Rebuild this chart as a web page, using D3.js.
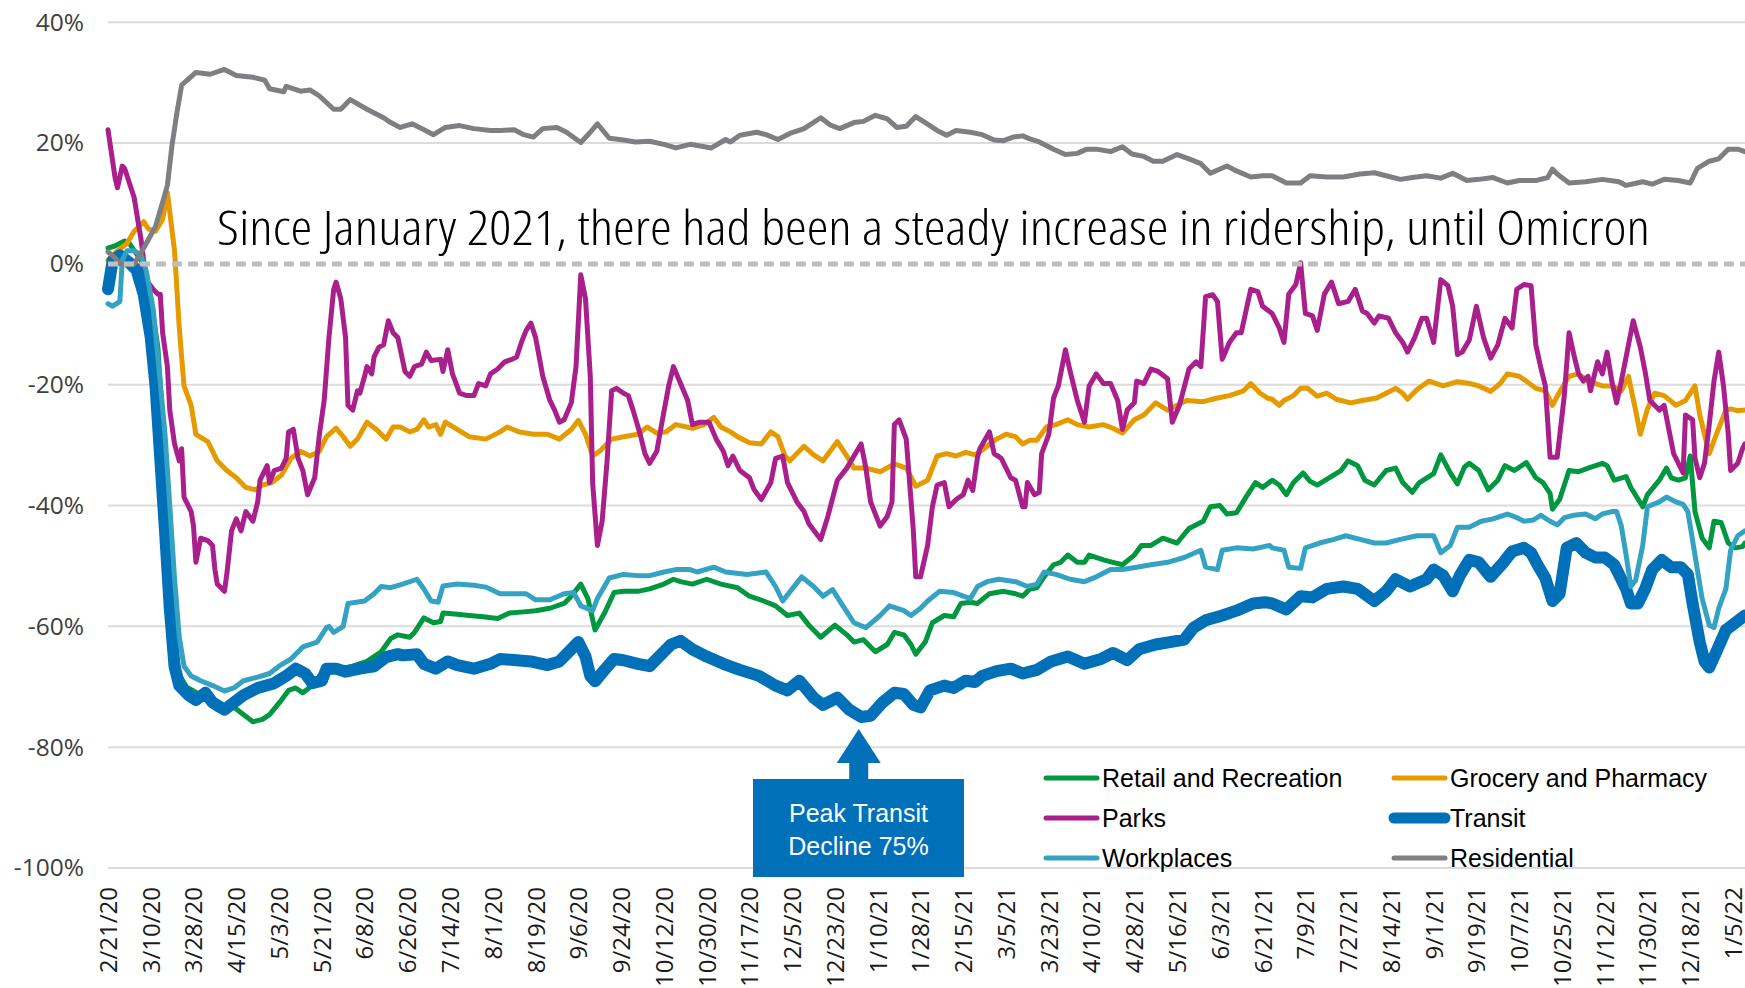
<!DOCTYPE html>
<html><head><meta charset="utf-8">
<script src="https://cdn.jsdelivr.net/npm/d3@7"></script>
<style>html,body{margin:0;padding:0;background:#fff;overflow:hidden}</style>
</head><body>
<svg id="chart" width="1745" height="988"></svg>
<script>
// ---------------- DATA ----------------
const startDate = "2020-02-21";   // day 0 of every series; each point is [days since start, % change]
const tickLabels = ["2/21/20","3/10/20","3/28/20","4/15/20","5/3/20","5/21/20","6/8/20","6/26/20","7/14/20","8/1/20","8/19/20","9/6/20","9/24/20","10/12/20","10/30/20","11/17/20","12/5/20","12/23/20","1/10/21","1/28/21","2/15/21","3/5/21","3/23/21","4/10/21","4/28/21","5/16/21","6/3/21","6/21/21","7/9/21","7/27/21","8/14/21","9/1/21","9/19/21","10/7/21","10/25/21","11/12/21","11/30/21","12/18/21","1/5/22"];
const yTicks = [40,20,0,-20,-40,-60,-80,-100];
const seriesNames = ["Retail and Recreation","Grocery and Pharmacy","Parks","Transit","Workplaces","Residential"];
const titleText = "Since January 2021, there had been a steady increase in ridership, until Omicron";
const noteLines = ["Peak Transit","Decline 75%"];

const retail = [[0,2.6],[3,3],[7,3.8],[9,3.4],[11,2.2],[14,0.6],[18,-5.8],[21,-13.8],[23,-26.6],[25,-44],[27,-60],[30,-68],[33,-70],[39,-71.4],[46,-73.8],[53,-73.4],[57,-74.6],[61,-75.8],[65,-75.4],[68,-74.6],[73,-72.2],[76,-70.6],[79,-70.2],[82,-71],[86,-69.8],[89,-68.2],[93,-67.4],[98,-67],[103,-66.6],[109,-65.8],[115,-64.2],[119,-62],[122,-61.4],[127,-61.8],[129,-61],[133,-58.6],[137,-59.4],[140,-59.2],[141,-57.8],[147,-58],[152,-58.2],[158,-58.4],[164,-58.7],[169,-57.8],[175,-57.6],[180,-57.4],[186,-57],[192,-56.2],[195,-55],[199,-53],[202,-55.4],[205,-60.6],[209,-57.8],[213,-54.4],[217,-54.2],[223,-54.2],[228,-53.8],[234,-53],[238,-52.2],[241,-52.6],[246,-53],[252,-52.2],[258,-53],[265,-53.6],[270,-55],[276,-55.8],[281,-56.6],[286,-58.2],[291,-57.8],[295,-59.8],[300,-61.8],[306,-59.8],[311,-61.4],[314,-62.6],[318,-62.2],[323,-64.2],[328,-63],[331,-61],[335,-61.4],[338,-63],[340,-64.6],[344,-62.6],[347,-59.4],[352,-58.2],[356,-58.4],[359,-56.2],[363,-56],[366,-56.2],[371,-54.6],[377,-54.2],[382,-54.6],[385,-55],[388,-53.8],[391,-53.6],[394,-51.8],[398,-49.8],[401,-49.4],[404,-48.2],[408,-49.4],[411,-49.4],[413,-48.2],[419,-49],[423,-49.4],[427,-49.8],[432,-48.2],[435,-46.6],[439,-46.6],[444,-45.4],[450,-46.2],[455,-43.8],[461,-42.6],[464,-40.2],[468,-40],[471,-41.4],[475,-41.2],[479,-38.6],[483,-36.2],[486,-37],[490,-35.8],[493,-36.6],[496,-38.2],[499,-36.2],[503,-34.6],[506,-36],[509,-36.6],[514,-35.4],[519,-34.2],[522,-32.6],[526,-33.4],[529,-35.8],[533,-36.6],[538,-34.2],[542,-33.8],[545,-36.2],[549,-37.8],[552,-36.2],[558,-34.7],[561,-31.6],[565,-34.6],[568,-36.4],[571,-33.6],[573,-33],[577,-34.2],[581,-37.4],[585,-35.8],[588,-33.4],[592,-34.2],[597,-32.9],[601,-35.4],[604,-36.2],[607,-38],[608,-40.6],[611,-39],[615,-34.2],[619,-34.4],[623,-33.8],[629,-33],[631,-33.4],[634,-35.8],[639,-35.2],[641,-37],[646,-40.2],[648,-38.2],[653,-35.8],[656,-33.8],[658,-35.4],[661,-35.8],[664,-35.4],[666,-31.8],[668,-41],[671,-45.4],[674,-47],[676,-42.6],[679,-42.8],[682,-46.2],[685,-47],[688,-46.8],[689,-46.2]];

const grocery = [[0,0.6],[4,2.2],[8,3.4],[11,5.4],[15,7],[17,5.8],[20,5.4],[23,7.4],[25,11.8],[28,2.2],[30,-10.6],[32,-20.2],[35,-23.4],[37,-28.2],[42,-29.4],[46,-32.6],[50,-34.2],[54,-35.4],[58,-37],[62,-37.4],[65,-36.6],[69,-36.2],[73,-35],[77,-32.2],[81,-31],[85,-31.8],[89,-31],[92,-28.6],[96,-27.2],[99,-28.6],[102,-30.2],[105,-29],[109,-26.2],[113,-27.4],[117,-29],[120,-27],[123,-27],[127,-27.8],[130,-27.4],[133,-25.8],[135,-27],[138,-26.6],[140,-28.2],[142,-26.2],[147,-27.4],[152,-28.6],[159,-29],[165,-27.8],[168,-27],[173,-27.8],[179,-28.2],[185,-28.2],[190,-29],[195,-27.4],[198,-25.9],[201,-28.2],[204,-31.8],[207,-31],[212,-29],[217,-28.6],[223,-28.2],[227,-27],[231,-28],[235,-27.8],[239,-26.6],[246,-27.2],[251,-26.6],[255,-25.4],[258,-27],[262,-27.8],[265,-28.6],[270,-29.6],[275,-29.8],[279,-27.8],[282,-28.6],[285,-31.8],[287,-32.6],[293,-30.2],[297,-31.6],[301,-32.6],[307,-29.4],[311,-31.8],[314,-33.8],[319,-33.8],[325,-34.4],[331,-33.1],[336,-33.8],[340,-36.8],[345,-35.8],[349,-31.8],[353,-31.4],[357,-31.8],[361,-31.2],[365,-31.6],[368,-30.8],[374,-29],[378,-28.2],[382,-28.6],[385,-29.8],[388,-29.2],[391,-29.2],[395,-27],[399,-26.6],[404,-25.8],[408,-26.6],[413,-27],[419,-26.6],[423,-27.2],[427,-28],[432,-25.8],[436,-25],[441,-23],[446,-24.2],[450,-23.4],[454,-22.6],[461,-22.8],[467,-22.2],[472,-21.8],[478,-21],[481,-19.8],[485,-21.4],[488,-22.2],[490,-22.4],[493,-23.4],[495,-22.6],[499,-21.8],[502,-20.6],[505,-20.6],[509,-21.9],[513,-21.4],[517,-22.4],[523,-23],[528,-22.6],[534,-22.2],[538,-21.4],[542,-20.6],[545,-21.4],[547,-22.4],[551,-20.8],[556,-19.4],[562,-20.2],[568,-19.5],[573,-19.8],[577,-20.2],[582,-21.1],[586,-19.8],[589,-18.2],[594,-18.6],[597,-19.4],[601,-20.6],[605,-21],[608,-23.4],[611,-21.2],[615,-18.6],[619,-18.2],[623,-19.4],[629,-20.2],[633,-20.2],[637,-21],[640,-18.6],[643,-24.2],[645,-28.2],[648,-24],[651,-21.4],[655,-21.8],[660,-23.4],[664,-22.6],[668,-20.2],[670,-25],[674,-31.4],[677,-28.2],[681,-24.2],[683,-24],[686,-24.3],[689,-24.2]];

const parks = [[0,22.2],[3,14.2],[4,12.6],[6,16.2],[7,15.8],[9,13.4],[11,11],[12,8.6],[14,3.8],[16,-2.6],[19,-4.2],[21,-5],[22,-5],[23,-11.4],[25,-17],[26,-24.2],[28,-29.8],[30,-32.6],[31,-30.6],[32,-38.6],[35,-41],[36,-43.4],[37,-49.4],[39,-45.4],[42,-45.8],[44,-46.6],[45,-50.6],[46,-53],[49,-54.2],[50,-51.4],[52,-44.2],[54,-42.2],[56,-44.2],[58,-41],[61,-42.6],[63,-39.4],[64,-35.8],[67,-33.4],[68,-36.2],[70,-34.2],[73,-33.8],[75,-32.2],[76,-27.8],[78,-27.4],[80,-32.2],[82,-34.2],[84,-38.2],[87,-35.4],[89,-28.2],[91,-22.6],[93,-12.2],[95,-4.2],[96,-3],[98,-5.8],[100,-12.2],[101,-23.4],[103,-24.2],[105,-21],[106,-21.4],[108,-18.6],[109,-17],[111,-18.2],[112,-15.4],[114,-13.8],[116,-13.4],[118,-9.4],[120,-11.4],[122,-12.2],[125,-17.8],[127,-18.6],[129,-17],[132,-16.6],[134,-14.6],[136,-16],[140,-15.8],[141,-17.8],[143,-14.2],[145,-18.2],[148,-21.4],[151,-21.8],[154,-21.8],[156,-19.8],[159,-20.2],[161,-18.2],[164,-17.4],[167,-16.2],[170,-15.8],[172,-15.4],[174,-13],[176,-11],[178,-9.8],[180,-12.2],[183,-18.6],[186,-22.6],[188,-24.2],[190,-26.2],[192,-25.8],[195,-23],[197,-17],[199,-1.8],[201,-5.8],[203,-18.6],[204,-36.2],[206,-46.6],[208,-42.6],[210,-33],[212,-21],[214,-20.6],[217,-21.4],[219,-21.8],[221,-24.2],[224,-28.2],[226,-31.4],[228,-33],[231,-31],[233,-26.6],[236,-20.2],[238,-17],[241,-19.8],[244,-22.6],[246,-26.6],[249,-26.2],[253,-26.2],[256,-29],[259,-31],[261,-33.4],[263,-31.8],[266,-34.2],[270,-35.4],[272,-37.4],[275,-39],[279,-36.2],[281,-32.2],[284,-31.8],[286,-36.2],[290,-39.4],[293,-41],[295,-43],[300,-45.6],[303,-41.8],[307,-35.8],[311,-33.8],[314,-31.8],[317,-29.8],[319,-33.8],[321,-39.4],[325,-43.4],[328,-41.8],[330,-39.4],[331,-26.6],[333,-25.8],[336,-29],[339,-44.2],[340,-51.8],[342,-51.8],[345,-46.6],[347,-40.2],[349,-36.6],[352,-36.2],[354,-40.2],[357,-39],[360,-38.2],[362,-35.8],[364,-37.5],[366,-32],[367,-30.6],[371,-27.8],[373,-31.4],[376,-32.2],[380,-35.4],[382,-35.8],[385,-40.2],[386,-40.2],[387,-36.2],[390,-38.2],[392,-37.8],[393,-31.4],[396,-28.2],[398,-22.2],[400,-20.2],[403,-14.2],[405,-17.8],[408,-22.6],[411,-26.2],[413,-20.2],[416,-18.2],[419,-19.8],[422,-19.8],[425,-22.6],[427,-27.4],[429,-24.2],[432,-23],[433,-19.4],[436,-19.8],[439,-17.4],[442,-17.8],[446,-19],[448,-26.2],[451,-23.4],[455,-17.4],[458,-16.2],[460,-17],[462,-5.4],[465,-5.1],[467,-6.2],[469,-15.8],[472,-13],[475,-11.4],[477,-11.4],[481,-4.2],[484,-4.6],[486,-7],[490,-8.2],[493,-10.6],[495,-13],[497,-5],[500,-3.4],[502,0.2],[504,-8.2],[507,-8.6],[509,-11],[512,-5],[515,-3],[518,-6.6],[522,-6.2],[525,-4.2],[528,-7.8],[530,-8.2],[533,-9.8],[535,-8.6],[539,-9],[542,-11.4],[545,-13],[547,-14.6],[550,-12.2],[553,-9],[555,-9],[558,-13],[561,-2.6],[564,-3.6],[566,-7],[568,-15],[570,-14.6],[573,-12.6],[576,-7],[579,-12.2],[582,-15.6],[585,-13.4],[588,-9],[591,-10.6],[593,-4.2],[596,-3.4],[599,-3.6],[601,-13.4],[603,-17],[605,-20.2],[607,-32],[610,-32],[613,-21.8],[615,-11.4],[617,-15],[619,-18.2],[621,-19.4],[623,-18.6],[624,-21],[627,-16.2],[629,-18.2],[631,-14.6],[633,-19.4],[635,-23],[637,-19.4],[639,-15.4],[642,-9.4],[645,-13.8],[647,-17.8],[649,-22.6],[653,-24.2],[655,-23.4],[657,-27.4],[659,-31.4],[661,-33],[663,-34.6],[664,-25],[667,-25.8],[668,-32.2],[670,-35.4],[672,-33],[674,-26.6],[676,-19.4],[678,-14.6],[680,-20.2],[682,-28.2],[683,-34.2],[686,-33],[688,-30.6],[689,-29.8]];

const transit = [[0,-4.2],[2,0.6],[5,1.4],[9,0.2],[12,-1],[15,-5],[18,-12.2],[20,-20.2],[22,-32.2],[24,-44.2],[26,-57],[28,-66.6],[30,-69.8],[34,-71.4],[37,-72.2],[41,-71],[44,-72.6],[49,-73.8],[53,-72.6],[57,-71.4],[63,-70.2],[70,-69.4],[75,-68.2],[79,-67],[83,-67.8],[86,-69.4],[90,-69],[92,-67],[96,-67],[100,-67.5],[106,-67],[112,-66.6],[117,-65.1],[122,-64.6],[124,-64.8],[130,-64.6],[133,-66.2],[138,-67],[143,-65.8],[147,-66.4],[154,-67],[161,-66.2],[165,-65.4],[172,-65.6],[178,-65.8],[185,-66.4],[190,-65.8],[195,-63.8],[198,-62.6],[201,-65],[203,-68.2],[205,-69.1],[209,-67.2],[213,-65.4],[217,-65.6],[223,-66.2],[228,-66.6],[232,-65],[237,-63],[241,-62.4],[246,-63.8],[252,-65],[259,-66.2],[266,-67.2],[274,-68.2],[281,-69.8],[286,-70.6],[291,-69],[297,-71.8],[301,-73],[307,-71.8],[312,-73.8],[317,-75],[321,-74.8],[326,-72.6],[331,-71],[335,-71.2],[339,-73],[342,-73.4],[346,-70.6],[352,-69.8],[356,-70.2],[361,-69],[365,-69.2],[368,-68.2],[374,-67.4],[380,-67],[385,-67.8],[391,-67.2],[397,-65.8],[404,-65],[411,-66.2],[418,-65.4],[423,-64.4],[429,-65.6],[434,-63.8],[441,-63],[447,-62.6],[453,-62.2],[457,-60.2],[462,-59],[469,-58.2],[475,-57.4],[482,-56.2],[487,-56],[490,-56.2],[496,-57.2],[502,-55],[507,-55.2],[513,-53.8],[520,-53.4],[526,-53.8],[533,-55.8],[538,-54.2],[542,-52.2],[548,-53.4],[555,-52.2],[558,-50.6],[562,-51.6],[566,-54.2],[569,-51.6],[573,-49],[577,-49.4],[582,-51.8],[587,-49.6],[591,-47.6],[596,-47],[599,-47.8],[602,-50],[605,-52],[608,-55.8],[611,-54.6],[614,-47],[618,-46.2],[622,-47.8],[626,-48.6],[630,-48.6],[634,-49.8],[639,-53.8],[641,-56.2],[644,-56.2],[647,-53.8],[650,-50.6],[654,-49],[658,-50.2],[662,-50.2],[665,-51.4],[667,-56.2],[670,-62.6],[672,-65.8],[674,-66.8],[677,-64.2],[681,-60.6],[685,-59.4],[689,-58.2]];

const workplaces = [[0,-6.6],[2,-7],[5,-6.2],[6,0.6],[8,2.2],[11,2.2],[14,1.4],[16,-1],[19,-7.4],[21,-15.4],[24,-28.2],[26,-40],[28,-52],[30,-61.8],[32,-66.6],[35,-68.2],[39,-69],[44,-69.8],[49,-70.7],[53,-70.2],[57,-69],[63,-68.4],[68,-67.8],[72,-66.6],[77,-65.4],[82,-63.4],[88,-62.6],[92,-60.2],[93,-60],[95,-61],[99,-60],[101,-56.2],[108,-55.8],[112,-54.6],[115,-53.4],[119,-53.6],[124,-53],[130,-52.2],[133,-53.8],[136,-55.8],[139,-56],[141,-53.3],[147,-53],[154,-53.2],[159,-53.5],[165,-54.6],[171,-54.6],[176,-54.6],[180,-55.6],[186,-55.6],[192,-54.6],[196,-54.4],[199,-56.6],[204,-57.4],[206,-55.4],[211,-52],[217,-51.4],[223,-51.6],[228,-51.6],[234,-51],[239,-50.6],[245,-50.6],[248,-51],[255,-50.2],[260,-51],[269,-51.4],[277,-51],[281,-53.4],[284,-55.8],[288,-53.8],[292,-51.8],[297,-53.4],[301,-55],[305,-53.9],[309,-56.4],[314,-59.4],[319,-60.2],[325,-58.2],[329,-56.6],[335,-57.4],[338,-58.2],[342,-57],[345,-55.8],[350,-54.2],[356,-54.4],[360,-55],[363,-55.4],[366,-53.4],[370,-52.6],[375,-52.2],[382,-52.6],[387,-53.4],[391,-53],[394,-51],[399,-51.4],[405,-52.2],[411,-52.6],[416,-51.8],[422,-50.6],[427,-50.6],[433,-50.2],[439,-49.8],[446,-49.4],[453,-48.6],[460,-47.4],[462,-50.2],[467,-50.6],[469,-47.4],[475,-47],[482,-47.2],[489,-46.6],[490,-47],[495,-47.4],[497,-50.2],[502,-50.4],[504,-47],[510,-46.2],[516,-45.6],[521,-45],[527,-45.6],[533,-46.2],[538,-46.2],[544,-45.6],[551,-45],[558,-45],[561,-47.8],[565,-46.6],[568,-43.6],[573,-43.6],[578,-42.6],[583,-42.2],[589,-41.4],[593,-42],[596,-42.6],[600,-42.4],[603,-41.6],[607,-42.6],[610,-43.2],[613,-42],[617,-41.6],[622,-41.4],[626,-42.2],[629,-41.4],[633,-41],[635,-41],[637,-43.4],[639,-48.2],[641,-53.4],[643,-52.4],[646,-46.6],[648,-40.2],[653,-39.4],[656,-38.6],[660,-39.4],[663,-39.8],[665,-41],[668,-48.2],[671,-55.4],[674,-59.8],[676,-60.2],[678,-57],[681,-53.8],[683,-47.4],[686,-45],[689,-44.2]];

const residential = [[0,2],[3,1],[5,0],[11,0],[15,2.6],[20,6.2],[23,10.2],[25,13],[27,19.8],[29,25],[31,29.6],[37,31.7],[43,31.4],[49,32.2],[54,31.2],[61,30.9],[66,30.4],[68,29],[74,28.5],[75,29.4],[81,28.6],[85,28.8],[89,27.8],[95,25.6],[98,25.6],[102,27.2],[109,25.6],[116,24.2],[119,23.4],[123,22.6],[128,23.2],[133,22.2],[137,21.4],[142,22.6],[148,22.9],[154,22.4],[161,22.1],[165,22.1],[171,22.2],[175,21.4],[179,21],[183,22.4],[189,22.6],[193,21.8],[199,20.1],[203,21.8],[206,23.2],[211,20.8],[217,20.5],[222,20.2],[228,20.3],[234,19.8],[239,19.2],[245,19.8],[254,19.2],[260,20.6],[262,20.2],[266,21.3],[273,21.8],[277,21.4],[282,20.6],[287,21.6],[293,22.4],[300,24.2],[304,23],[308,22.4],[314,23.4],[318,23.6],[323,24.6],[328,24],[332,22.6],[336,22.8],[340,24.4],[344,23.4],[349,22.1],[353,21.3],[357,22.1],[363,21.8],[368,21.4],[373,20.5],[377,20.4],[381,21],[385,21.2],[388,20.7],[392,20.2],[398,19],[403,18.1],[408,18.3],[412,19],[416,19],[422,18.6],[427,19.4],[431,18.2],[436,17.8],[440,17],[444,17],[450,18.1],[455,17.4],[460,16.6],[464,15],[471,16.2],[475,15.4],[481,14.4],[486,14.6],[490,14.6],[496,13.4],[502,13.4],[506,14.6],[513,14.4],[520,14.4],[527,14.9],[533,15.1],[538,14.6],[544,14],[549,14.3],[555,14.6],[561,14.2],[566,15],[572,13.8],[577,14],[583,14.3],[589,13.4],[594,13.8],[601,13.8],[606,14.3],[608,15.7],[610,14.9],[615,13.4],[622,13.6],[629,14],[636,13.6],[639,13],[646,13.6],[650,13.2],[655,14],[661,13.8],[666,13.4],[669,15.8],[674,17],[678,17.4],[682,19],[686,19],[689,18.6]];

const seriesData = [retail, grocery, parks, transit, workplaces, residential];
const seriesColors = ["#00973F","#E59A00","#A91F8B","#0070B8","#34A2C2","#7F7F83"];
const seriesWidths = [5,5,5,12,5,5];

// ---------------- CHART ----------------
const W = 1745, H = 988;
const svg = d3.select("#chart");
const parseTick = d3.utcParse("%m/%d/%y");
const start = d3.utcParse("%Y-%m-%d")(startDate);
const tickDates = tickLabels.map(parseTick);

const x = d3.scaleUtc().domain([tickDates[0], tickDates[tickDates.length-1]]).range([108, 1733]);
const y = d3.scaleLinear().domain([-100, 40]).range([868, 22.3]);

// gridlines
svg.append("g").selectAll("line").data(yTicks.filter(v => v !== 0)).join("line")
  .attr("x1", 108).attr("x2", W)
  .attr("y1", d => y(d)).attr("y2", d => y(d))
  .attr("stroke", "#DCDCDC").attr("stroke-width", 2);

// y axis labels
const yAxis = d3.axisLeft(y).tickValues(yTicks).tickFormat(d => d + "%").tickSize(0).tickPadding(0);
const yg = svg.append("g").attr("transform", "translate(84,0)").call(yAxis);
yg.select(".domain").remove();
yg.selectAll("text").attr("font-family", "'Open Sans', sans-serif").attr("font-size", 24.5).attr("fill", "#404040");

// x axis labels (rotated)
const xAxis = d3.axisBottom(x).tickValues(tickDates).tickFormat((d, i) => tickLabels[i]).tickSize(0).tickPadding(0);
const xg = svg.append("g").attr("transform", "translate(0,887)").call(xAxis);
xg.select(".domain").remove();
xg.selectAll("text")
  .attr("font-family", "'Open Sans', sans-serif").attr("font-size", 24).attr("fill", "#1a1a1a")
  .attr("transform", "rotate(-90)")
  .attr("text-anchor", "end").attr("dy", "0.35em").attr("x", 0).attr("y", 0);

// lines
const line = d3.line()
  .x(d => x(d3.utcDay.offset(start, d[0])))
  .y(d => y(d[1]));
const lg = svg.append("g");
seriesData.forEach((data, i) => {
  lg.append("path").datum(data)
    .attr("d", line)
    .attr("fill", "none")
    .attr("stroke", seriesColors[i])
    .attr("stroke-width", seriesWidths[i])
    .attr("stroke-linejoin", "round")
    .attr("stroke-linecap", "round");
});

// zero dashed line
svg.append("line")
  .attr("x1", 108).attr("x2", W).attr("y1", y(0)).attr("y2", y(0))
  .attr("stroke", "#BFBFBF").attr("stroke-width", 5).attr("stroke-dasharray", "10 6");

// title
svg.append("text")
  .attr("x", 217).attr("y", 245)
  .attr("font-family", "'Open Sans', sans-serif")
  .attr("font-weight", 300).attr("font-stretch", "condensed")
  .attr("font-size", 47).attr("fill", "#000")
  .attr("textLength", 1433).attr("lengthAdjust", "spacingAndGlyphs")
  .text(titleText);

// annotation
const noteColor = "#0070B8";
const ax = x(d3.utcDay.offset(start, 316));
svg.append("path")
  .attr("d", `M${ax-22},763 L${ax+22},763 L${ax},729 Z`).attr("fill", noteColor);
svg.append("rect").attr("x", ax-9.5).attr("y", 760).attr("width", 19).attr("height", 22).attr("fill", noteColor);
svg.append("rect").attr("x", 753).attr("y", 779).attr("width", 211).attr("height", 98).attr("fill", noteColor);
noteLines.forEach((t, i) => {
  svg.append("text").attr("x", 858.5).attr("y", 822 + i*33)
    .attr("text-anchor", "middle")
    .attr("font-family", "'Liberation Sans', Arial, sans-serif").attr("font-size", 25)
    .attr("fill", "#fff").text(t);
});

// legend
const legendPos = [[1043,778],[1391,778],[1043,818],[1391,818],[1043,858],[1391,858]];
seriesNames.forEach((name, i) => {
  const [lx, ly] = legendPos[i];
  svg.append("line").attr("x1", lx + 3).attr("x2", lx + 54).attr("y1", ly).attr("y2", ly)
    .attr("stroke", seriesColors[i]).attr("stroke-width", seriesWidths[i] > 6 ? 11 : 5)
    .attr("stroke-linecap", "round");
  svg.append("text").attr("x", lx + 59).attr("y", ly + 9)
    .attr("font-family", "'Liberation Sans', Arial, sans-serif").attr("font-size", 25)
    .attr("fill", "#000").text(name);
});
</script>
</body></html>
